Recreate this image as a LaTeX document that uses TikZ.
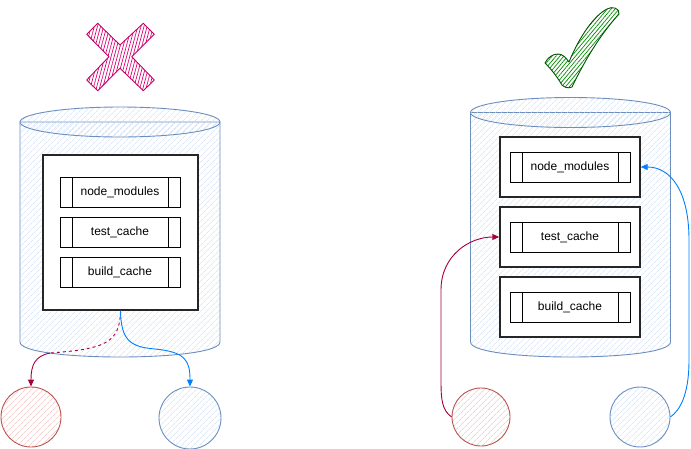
\documentclass[tikz,border=0pt]{standalone}
\usepackage{fontspec}
\setmainfont{Liberation Sans}
\usetikzlibrary{patterns.meta,arrows.meta}
\definecolor{cylstroke}{HTML}{6C8EBF}
\definecolor{cylfill}{HTML}{C9DCF5}
\definecolor{redstroke}{HTML}{B85450}
\definecolor{redfill}{HTML}{F2B8B5}
\definecolor{edgered}{HTML}{A50040}
\definecolor{edgeblue}{HTML}{007FFF}
\definecolor{xstroke}{HTML}{C2006A}
\definecolor{xfill}{HTML}{D80073}
\definecolor{okstroke}{HTML}{005700}
\definecolor{okfill}{HTML}{008A00}
\tikzset{
  cyl/.style={draw=cylstroke, line width=0.9pt, pattern={Lines[angle=45,distance=4pt,line width=0.5pt]}, pattern color=cylfill},
  outerbox/.style={draw=black!85, line width=1.4pt, fill=white, minimum width=#1, inner sep=0pt},
  procbox/.style={draw=black, line width=0.9pt, fill=white, minimum width=120pt, minimum height=30pt, inner sep=0pt,
    font=\fontsize{12}{14}\selectfont,
    path picture={
      \draw[line width=0.9pt] ([xshift=12pt]path picture bounding box.north west) -- ([xshift=12pt]path picture bounding box.south west);
      \draw[line width=0.9pt] ([xshift=-12pt]path picture bounding box.north east) -- ([xshift=-12pt]path picture bounding box.south east);}},
  redcirc/.style={circle, draw=redstroke, line width=0.9pt, pattern={Lines[angle=45,distance=4pt,line width=0.5pt]}, pattern color=redfill, inner sep=0pt, minimum size=#1},
  bluecirc/.style={circle, draw=cylstroke, line width=0.9pt, pattern={Lines[angle=45,distance=4pt,line width=0.5pt]}, pattern color=cylfill, inner sep=0pt, minimum size=#1},
  redge/.style={draw=edgered, line width=0.9pt},
  bedge/.style={draw=edgeblue, line width=0.9pt},
  tip/.style={-{Triangle[length=7pt,width=6pt]}}
}
\begin{document}
\begin{tikzpicture}[x=1pt,y=-1pt]
\useasboundingbox (0,0) rectangle (691,448);

% X mark
\path[draw=xstroke, line width=0.9pt, line join=round, pattern={Lines[angle=75,distance=3pt,line width=0.7pt]}, pattern color=xfill]
  (86.7,34.3) -- (97.7,23.3) -- (120,45) -- (143.3,23.3) -- (154.3,34.3) -- (131.7,56.7)
  -- (154.3,80) -- (143.3,90.7) -- (120,68.3) -- (97.7,90.7) -- (86.7,80) -- (109,56.7) -- cycle;

% check mark
\path[draw=okstroke, line width=0.9pt, line join=round, pattern={Lines[angle=50,distance=3pt,line width=0.7pt]}, pattern color=okfill]
  (545,63) .. controls (548,57) and (553,54) .. (558,54)
  .. controls (563,54) and (566,58) .. (569,62)
  .. controls (580,35) and (595,15) .. (607,9)
  .. controls (612,6) and (620,8) .. (619,14)
  .. controls (600,35) and (585,60) .. (572,87)
  .. controls (568,89) and (564,87) .. (562,85)
  .. controls (556,75) and (550,68) .. (545,63) -- cycle;

% left cylinder
\path[cyl] (20,122) -- (20,342) .. controls (20,362) and (220,362) .. (220,342) -- (220,122) -- cycle;
\path[cyl] (120,122) ellipse [x radius=100pt, y radius=15pt];

% right cylinder
\path[cyl] (470.5,112.5) -- (470.5,342) .. controls (470.5,362) and (670.5,362) .. (670.5,342) -- (670.5,112.5) -- cycle;
\path[cyl] (570.5,112.5) ellipse [x radius=100pt, y radius=15pt];

% left boxes
\node[outerbox=155pt, minimum height=155pt] (lbox) at (120.5,232.5) {};
\node[procbox] (lnm) at (120,192) {node\_modules};
\node[procbox] (ltc) at (120,232) {test\_cache};
\node[procbox] (lbc) at (120,272) {build\_cache};

% right boxes
\node[outerbox=140pt, minimum height=60pt] (rb1) at (570,167) {};
\node[outerbox=140pt, minimum height=60pt] (rb2) at (570,237) {};
\node[outerbox=140pt, minimum height=60pt] (rb3) at (570,307) {};
\node[procbox] (rnm) at (570,167) {node\_modules};
\node[procbox] (rtc) at (570,237) {test\_cache};
\node[procbox] (rbc) at (570,307) {build\_cache};

% circles
\node[redcirc=60pt] (lred) at (31,417) {};
\node[bluecirc=62pt] (lblue) at (190,418) {};
\node[redcirc=58pt] (rred) at (481,417) {};
\node[bluecirc=60pt] (rblue) at (640,417) {};

% left edges
\coordinate (redmid) at (50,353);
\path[redge, dashed] (lbox.south) .. controls (120,343) and (105,349) .. (redmid);
\path[redge, tip] (redmid) .. controls (35,356) and (31,365) .. (lred.north);
\path[bedge, tip] (lbox.south) .. controls (121,340) and (130,347) .. (155,349)
  .. controls (185,352) and (190,360) .. (lblue.north);

% right edges
\path[redge, tip] (rred.west) .. controls (442,410) and (441,400) .. (441,380)
  -- (441,290) .. controls (441,255) and (470,237) .. (rb2.west);
\path[bedge, tip] (rblue.east) .. controls (680,410) and (689,395) .. (689,360)
  -- (689,240) .. controls (689,190) and (670,167) .. (rb1.east);
\end{tikzpicture}
\end{document}
